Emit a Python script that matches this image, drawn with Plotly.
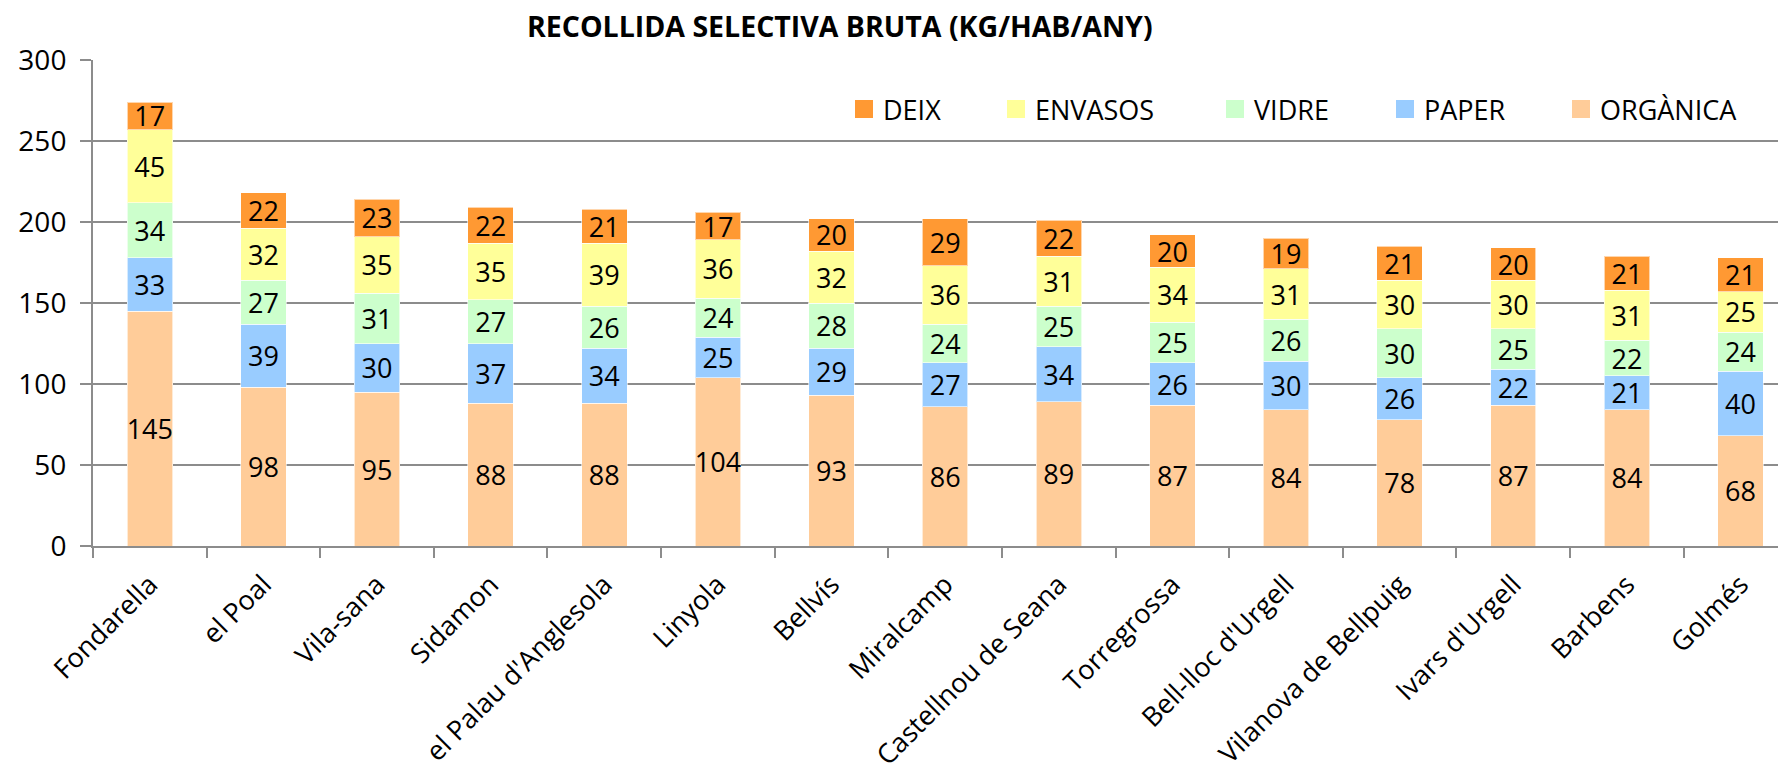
import plotly.graph_objects as go

categories = ["Fondarella", "el Poal", "Vila-sana", "Sidamon", "el Palau d'Anglesola",
              "Linyola", "Bellvís", "Miralcamp", "Castellnou de Seana", "Torregrossa",
              "Bell-lloc d'Urgell", "Vilanova de Bellpuig", "Ivars d'Urgell", "Barbens", "Golmés"]
organica = [145, 98, 95, 88, 88, 104, 93, 86, 89, 87, 84, 78, 87, 84, 68]
paper = [33, 39, 30, 37, 34, 25, 29, 27, 34, 26, 30, 26, 22, 21, 40]
vidre = [34, 27, 31, 27, 26, 24, 28, 24, 25, 25, 26, 30, 25, 22, 24]
envasos = [45, 32, 35, 35, 39, 36, 32, 36, 31, 34, 31, 30, 30, 31, 25]
deix = [17, 22, 23, 22, 21, 17, 20, 29, 22, 20, 19, 21, 20, 21, 21]

series_names = ["ORGÀNICA", "PAPER", "VIDRE", "ENVASOS", "DEIX"]
series_values = [organica, paper, vidre, envasos, deix]
series_colors = ["#FFCC99", "#99CCFF", "#CCFFCC", "#FFFF99", "#FF9933"]

FONT = "Open Sans"
W, H = 1778, 773
L, R, T, B = 93, 0, 60, 227
PW, PH = W - L - R, H - T - B


def px_x(x):
    return (x - L) / PW


def px_y(y):
    return (H - B - y) / PH


fig = go.Figure()
for name, vals, col in zip(series_names, series_values, series_colors):
    fig.add_trace(go.Bar(
        x=categories, y=vals, name=name,
        marker=dict(color=col, line=dict(color="rgba(255,255,255,0.6)", width=1)),
        text=[str(v) for v in vals], textposition="inside",
        insidetextanchor="middle", textangle=0,
        textfont=dict(family=FONT, size=27, color="black"),
        width=0.4, showlegend=False,
    ))

# Legend drawn as squares + text (order as in the reference)
legend_order = ["DEIX", "ENVASOS", "VIDRE", "PAPER", "ORGÀNICA"]
legend_left = [855, 1007, 1226, 1396, 1572]
shapes = []
annotations = []
for nm, lx in zip(legend_order, legend_left):
    col = series_colors[series_names.index(nm)]
    shapes.append(dict(type="rect", xref="paper", yref="paper",
                       x0=px_x(lx), x1=px_x(lx + 18), y0=px_y(118), y1=px_y(100),
                       fillcolor=col, line=dict(width=0)))
    annotations.append(dict(text=nm, xref="paper", yref="paper",
                            x=px_x(lx + 26), y=px_y(110), xanchor="left", yanchor="middle",
                            showarrow=False, font=dict(family=FONT, size=27, color="black")))

annotations.append(dict(text="<b>RECOLLIDA SELECTIVA BRUTA (KG/HAB/ANY)</b>",
                        xref="paper", yref="paper",
                        x=px_x(840), y=px_y(26),
                        xanchor="center", yanchor="middle", showarrow=False,
                        font=dict(family=FONT, size=28.5, color="black")))

fig.update_layout(
    barmode="stack",
    width=W, height=H,
    margin=dict(l=L, r=R, t=T, b=B, autoexpand=False),
    plot_bgcolor="white", paper_bgcolor="white",
    font=dict(family=FONT, size=26, color="black"),
    uniformtext=dict(mode="show", minsize=27),
    showlegend=False,
    shapes=shapes,
    annotations=annotations,
)
fig.update_yaxes(range=[0, 300], dtick=50, showgrid=True, gridcolor="#8c8c8c", gridwidth=2,
                 showline=True, linecolor="#8c8c8c", linewidth=2,
                 ticks="outside", ticklen=11, tickcolor="#8c8c8c", tickwidth=2,
                 ticklabelstandoff=8,
                 tickfont=dict(family=FONT, size=28, color="black"), zeroline=False,
                 automargin=False)
fig.update_xaxes(range=[-0.5, 14.33], showline=True, linecolor="#8c8c8c", linewidth=2,
                 ticks="outside", ticklen=10, tickcolor="#8c8c8c", tickwidth=2,
                 tickson="boundaries", tickangle=-45, automargin=False,
                 ticklabelstandoff=10,
                 tickfont=dict(family=FONT, size=27, color="black"))

fig.write_html("out.html", config={"displayModeBar": False},
               post_script="document.body.style.margin='0';")
